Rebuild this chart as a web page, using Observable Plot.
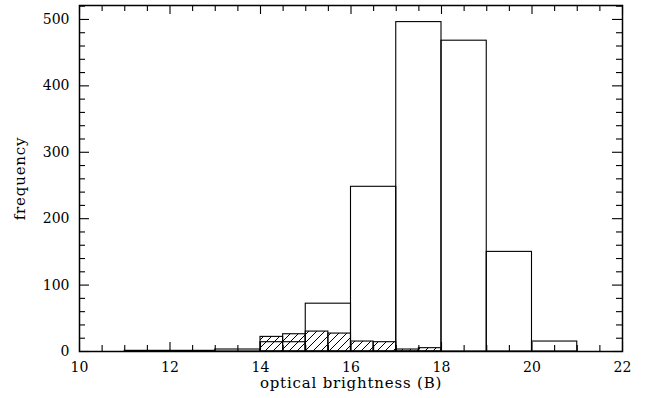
<!DOCTYPE html>
<html>
<head>
<meta charset="utf-8">
<script src="https://cdn.jsdelivr.net/npm/d3@7"></script>
<script src="https://cdn.jsdelivr.net/npm/@observablehq/plot@0.6"></script>
<style>
  html, body { margin: 0; padding: 0; background: #fff; }
  .lbl text { letter-spacing: 0.8px; }
</style>
</head>
<body>
<div id="chart"></div>
<script>
// ---- data ----
const openBinStart = [11, 12, 13, 14, 15, 16, 17, 18, 19, 20];
const openCounts   = [1, 1, 3, 14, 72, 248, 496, 468, 150, 15];
const openBinWidth = 1;

const hatchBinStart = [14, 14.5, 15, 15.5, 16, 16.5, 17, 17.5];
const hatchCounts   = [22, 26, 30, 27, 15, 14, 3, 5];
const hatchBinWidth = 0.5;

const xMajorTicks = [10, 12, 14, 16, 18, 20, 22];
const xMinorTicks = [10.5, 11, 11.5, 12.5, 13, 13.5, 14.5, 15, 15.5, 16.5, 17, 17.5, 18.5, 19, 19.5, 20.5, 21, 21.5];
const yMajorTicks = [0, 100, 200, 300, 400, 500];
const yMinorTicks = [20, 40, 60, 80, 120, 140, 160, 180, 220, 240, 260, 280, 320, 340, 360, 380, 420, 440, 460, 480, 520];

const xLabel = "optical brightness (B)";
const yLabel = "frequency";

// ---- layout ----
const W = 648, H = 398;
const mL = 79, mR = 26, mT = 5, mB = 47;
const xDomain = [10, 22];
const yDomain = [0, 521];
const kx = (xDomain[1] - xDomain[0]) / (W - mL - mR); // data units per px
const ky = (yDomain[1] - yDomain[0]) / (H - mT - mB);
const majorLenX = 9, minorLenX = 6;   // ticks on x axes (px)
const majorLenY = 10, minorLenY = 6;  // ticks on y axes (px)
const FONT = "'DejaVu Serif', 'Liberation Serif', serif";

const openBars = openBinStart.map((s, i) => ({x1: s, x2: s + openBinWidth, y: openCounts[i]}));
const hatchBars = hatchBinStart.map((s, i) => ({x1: s, x2: s + hatchBinWidth, y: hatchCounts[i]}));

const xTicks = [...xMajorTicks.map(v => ({v, len: majorLenX})), ...xMinorTicks.map(v => ({v, len: minorLenX}))];
const yTicks = [...yMajorTicks.map(v => ({v, len: majorLenY})), ...yMinorTicks.map(v => ({v, len: minorLenY}))];

const svg = Plot.plot({
  width: W,
  height: H,
  marginLeft: mL,
  marginRight: mR,
  marginTop: mT,
  marginBottom: mB,
  style: {fontFamily: FONT, fontSize: "14px", color: "#000", background: "#fff"},
  x: {domain: xDomain},
  y: {domain: yDomain},
  marks: [
    Plot.rectY(openBars, {x1: "x1", x2: "x2", y: "y", fill: "none", stroke: "#000", strokeWidth: 1.1}),
    Plot.rectY(hatchBars, {x1: "x1", x2: "x2", y: "y", fill: "url(#hatch)", stroke: "#000", strokeWidth: 1.1}),
    // inward ticks on all four sides
    Plot.ruleX(xTicks, {x: "v", y1: yDomain[0], y2: d => yDomain[0] + d.len * ky, stroke: "#000", strokeWidth: 1.1}),
    Plot.ruleX(xTicks, {x: "v", y1: yDomain[1], y2: d => yDomain[1] - d.len * ky, stroke: "#000", strokeWidth: 1.1}),
    Plot.ruleY(yTicks, {y: "v", x1: xDomain[0], x2: d => xDomain[0] + d.len * kx, stroke: "#000", strokeWidth: 1.1}),
    Plot.ruleY(yTicks, {y: "v", x1: xDomain[1], x2: d => xDomain[1] - d.len * kx, stroke: "#000", strokeWidth: 1.1}),
    Plot.frame({stroke: "#000", strokeWidth: 1.5}),
    Plot.axisX(xMajorTicks, {tickSize: 0, tickPadding: 11, label: null, tickFormat: d => String(d), fontSize: 14}),
    Plot.axisY(yMajorTicks, {tickSize: 0, tickPadding: 10, label: null, tickFormat: d => String(d), fontSize: 14}),
    Plot.text([xLabel], {text: d => d, frameAnchor: "bottom", textAnchor: "middle", lineAnchor: "middle", dy: 32, fontSize: 15, className: "lbl"}),
    Plot.text([yLabel], {text: d => d, frameAnchor: "left", textAnchor: "middle", lineAnchor: "middle", dx: -59, rotate: -90, fontSize: 15, className: "lbl"})
  ]
});

// hatch pattern for the second histogram
const NS = "http://www.w3.org/2000/svg";
const defs = document.createElementNS(NS, "defs");
const pat = document.createElementNS(NS, "pattern");
pat.setAttribute("id", "hatch");
pat.setAttribute("patternUnits", "userSpaceOnUse");
pat.setAttribute("width", "8");
pat.setAttribute("height", "8");
const p = document.createElementNS(NS, "path");
p.setAttribute("d", "M-2,2 L2,-2 M0,8 L8,0 M6,10 L10,6");
p.setAttribute("stroke", "#000");
p.setAttribute("stroke-width", "1");
p.setAttribute("fill", "none");
pat.appendChild(p);
defs.appendChild(pat);
svg.insertBefore(defs, svg.firstChild);

document.getElementById("chart").appendChild(svg);
</script>
</body>
</html>
